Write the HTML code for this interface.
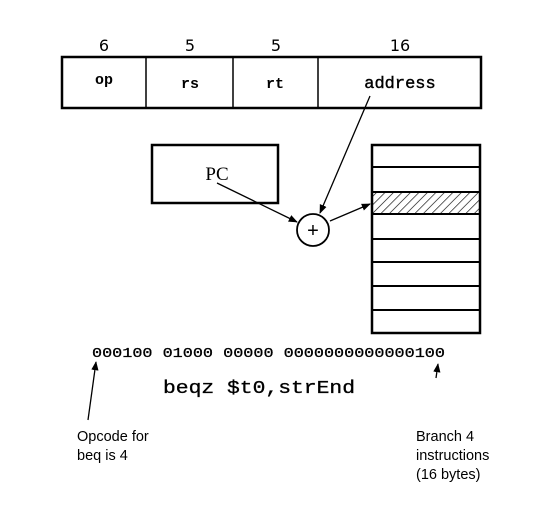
<!DOCTYPE html>
<html><head><style>body{margin:0;background:#fff}</style></head><body>
<svg width="547" height="511" viewBox="0 0 547 511" xmlns="http://www.w3.org/2000/svg">
<defs>
<marker id="a" viewBox="0 0 10 10" refX="9" refY="5" markerWidth="7" markerHeight="7" orient="auto"><path d="M0,1 L10,5 L0,9 z" fill="#000"/></marker>
<pattern id="h" width="6" height="6" patternUnits="userSpaceOnUse" patternTransform="rotate(45)"><line x1="0" y1="0" x2="0" y2="6" stroke="#000" stroke-width="1.3"/></pattern>
</defs>
<g font-family="DejaVu Sans, Liberation Sans, sans-serif" font-size="16" text-anchor="middle">
<text x="104" y="51">6</text><text x="190" y="51">5</text><text x="276" y="51">5</text><text x="400" y="51">16</text>
</g>
<g fill="none" stroke="#000" stroke-width="2.5">
<rect x="62" y="57" width="419" height="51"/>
<line x1="146" y1="57" x2="146" y2="108" stroke-width="1.5"/>
<line x1="233" y1="57" x2="233" y2="108" stroke-width="1.5"/>
<line x1="318" y1="57" x2="318" y2="108" stroke-width="1.5"/>
<rect x="152" y="145" width="126" height="58"/>
<rect x="372" y="145" width="108" height="188"/>
</g>
<rect x="373" y="192" width="106" height="22" fill="url(#h)"/>
<g stroke="#000" stroke-width="2">
<line x1="372" y1="167" x2="480" y2="167"/><line x1="372" y1="192" x2="480" y2="192"/>
<line x1="372" y1="214" x2="480" y2="214"/><line x1="372" y1="239" x2="480" y2="239"/>
<line x1="372" y1="262" x2="480" y2="262"/><line x1="372" y1="286" x2="480" y2="286"/>
<line x1="372" y1="310" x2="480" y2="310"/>
</g>
<g font-family="Liberation Mono, monospace" text-anchor="middle" font-size="15" font-weight="bold">
<text x="104" y="84">op</text><text x="190" y="88">rs</text><text x="275" y="88">rt</text>
<text x="400" y="88" font-size="17" font-weight="normal" stroke="#000" stroke-width="0.4">address</text>
</g>
<text x="217" y="180" font-family="Liberation Serif, serif" font-size="19" text-anchor="middle">PC</text>
<circle cx="313" cy="230" r="16" fill="none" stroke="#000" stroke-width="1.8"/>
<text x="313" y="237" font-family="Liberation Sans, sans-serif" font-size="20" text-anchor="middle">+</text>
<g stroke="#000" stroke-width="1.3" fill="none" marker-end="url(#a)">
<line x1="370" y1="96" x2="320" y2="213"/>
<line x1="217" y1="183" x2="297" y2="222"/>
<line x1="330" y1="221" x2="370" y2="204"/>
<line x1="88" y1="420" x2="96" y2="362"/>
<line x1="436" y1="378" x2="438" y2="364"/>
</g>
<text x="92" y="357" font-family="Liberation Mono, monospace" font-size="14" textLength="353" lengthAdjust="spacingAndGlyphs" stroke="#000" stroke-width="0.3" xml:space="preserve">000100 01000 00000 0000000000000100</text>
<text x="163" y="393" font-family="Liberation Mono, monospace" font-size="18" textLength="192" lengthAdjust="spacingAndGlyphs" stroke="#000" stroke-width="0.3">beqz $t0,strEnd</text>
<g font-family="Liberation Sans, sans-serif" font-size="14.5">
<text x="77" y="441">Opcode for</text><text x="77" y="460">beq is 4</text>
<text x="416" y="441">Branch 4</text><text x="416" y="460">instructions</text><text x="416" y="479">(16 bytes)</text>
</g>
</svg>
</body></html>
